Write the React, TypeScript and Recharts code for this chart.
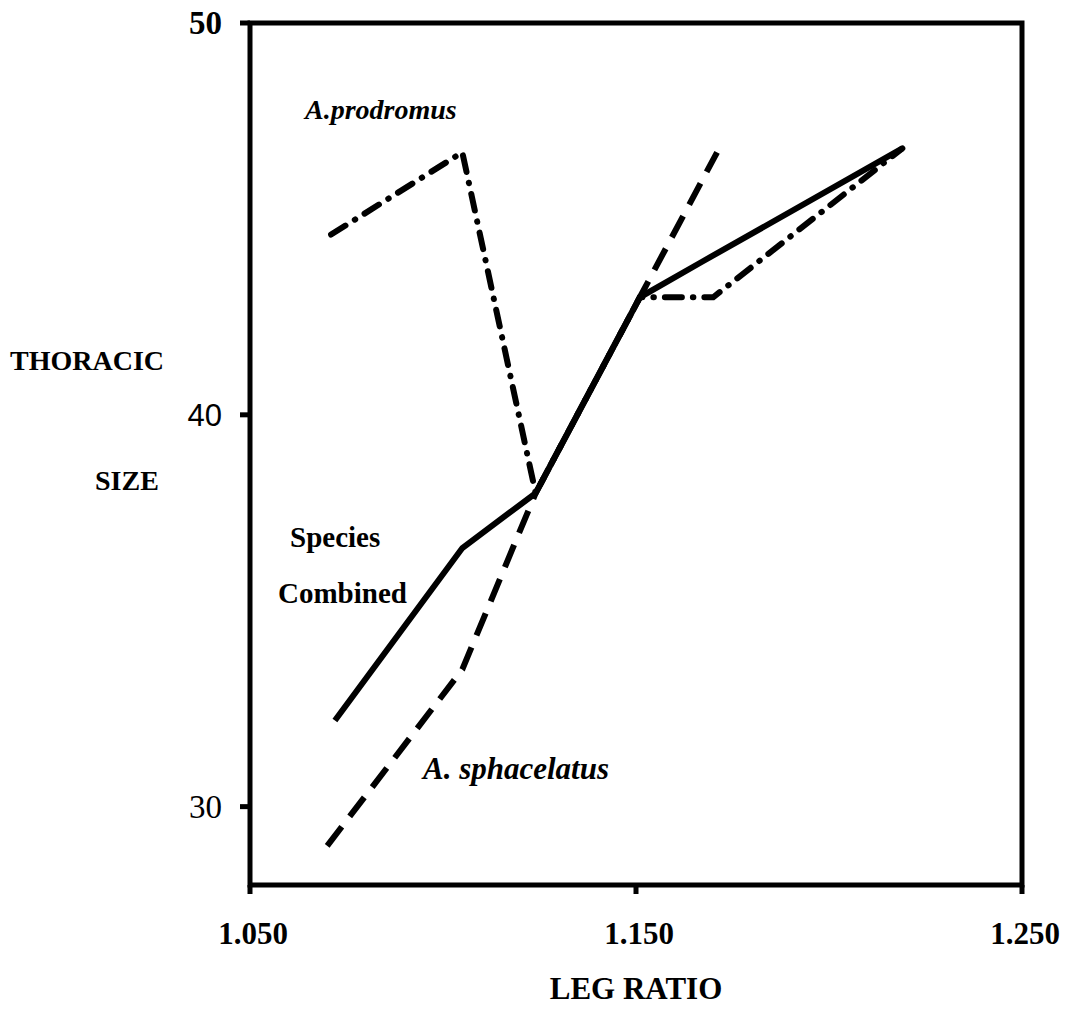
import { LineChart, Line, XAxis, YAxis, ReferenceArea, Customized } from 'recharts';

// leg ratio / thoracic size
const prodromusX = [1.071, 1.105, 1.124, 1.151, 1.17, 1.219];
const prodromusY = [44.6, 46.7, 38.0, 43.0, 43.0, 46.8];

const combinedX = [1.072, 1.105, 1.124, 1.151, 1.167, 1.219];
const combinedY = [32.2, 36.6, 38.0, 43.0, 43.9, 46.8];

const sphacelatusX = [1.07, 1.105, 1.124, 1.151, 1.171];
const sphacelatusY = [29.0, 33.5, 38.0, 43.0, 46.7];

const xTicks = [1.05, 1.15, 1.25];
const yTicks = [30, 40, 50];

const toPoints = (xs: number[], ys: number[]) => xs.map((x, i) => ({ x, y: ys[i] }));

const prodromus = toPoints(prodromusX, prodromusY);
const combined = toPoints(combinedX, combinedY);
const sphacelatus = toPoints(sphacelatusX, sphacelatusY);

const serif = '"Liberation Serif", "DejaVu Serif", serif';
const sans = '"Liberation Sans", Arial, sans-serif';

const YTick = (props: any) => {
  const { x, y, payload } = props;
  const v = payload.value;
  const style =
    v === 50
      ? { fontFamily: serif, fontWeight: 700, fontSize: 33 }
      : v === 40
      ? { fontFamily: sans, fontWeight: 400, fontSize: 31 }
      : { fontFamily: serif, fontWeight: 400, fontSize: 33 };
  return (
    <text x={x - 16} y={y + 11} textAnchor="end" fill="#000" {...style}>
      {v}
    </text>
  );
};

const XTick = (props: any) => {
  const { x, y, payload } = props;
  return (
    <text x={x + 3} y={y + 48} textAnchor="middle" fill="#000" fontFamily={serif} fontWeight={700} fontSize={31}>
      {payload.value.toFixed(3)}
    </text>
  );
};

const Labels = () => (
  <g fill="#000" fontFamily={serif}>
    <text x={10} y={370} fontWeight={700} fontSize={28}>THORACIC</text>
    <text x={95} y={490} fontWeight={700} fontSize={28}>SIZE</text>
    <text x={636} y={999} textAnchor="middle" fontWeight={700} fontSize={31}>LEG RATIO</text>
    <text x={305} y={119} fontWeight={700} fontStyle="italic" fontSize={28}>A.prodromus</text>
    <text x={290} y={547} fontWeight={700} fontSize={29}>Species</text>
    <text x={278} y={603} fontWeight={700} fontSize={29}>Combined</text>
    <text x={423} y={779} fontWeight={700} fontStyle="italic" fontSize={31}>A. sphacelatus</text>
  </g>
);

const App = () => (
  <div style={{ position: 'absolute', left: 0, top: 0, width: 1078, height: 1010, background: '#fff' }}>
    <LineChart width={1078} height={1010} margin={{ top: 23, right: 56, left: 190, bottom: 95 }}>
      <XAxis
        type="number"
        dataKey="x"
        domain={[1.05, 1.25]}
        ticks={xTicks}
        allowDataOverflow
        axisLine={false}
        tickLine={{ stroke: '#000', strokeWidth: 5 }}
        tickSize={9}
        tick={<XTick />}
        height={30}
      />
      <YAxis
        type="number"
        dataKey="y"
        domain={[28, 50]}
        ticks={yTicks}
        allowDataOverflow
        axisLine={false}
        tickLine={{ stroke: '#000', strokeWidth: 5 }}
        tickSize={10}
        tick={<YTick />}
        width={60}
      />
      <ReferenceArea x1={1.05} x2={1.25} y1={28} y2={50} fill="none" stroke="#000" strokeWidth={5} />
      <Line
        data={combined}
        dataKey="y"
        stroke="#000"
        strokeWidth={6}
        dot={false}
        strokeLinejoin="miter"
        isAnimationActive={false}
      />
      <Line
        data={sphacelatus}
        dataKey="y"
        stroke="#000"
        strokeWidth={6}
        strokeDasharray="24 13"
        dot={false}
        isAnimationActive={false}
      />
      <Line
        data={prodromus}
        dataKey="y"
        stroke="#000"
        strokeWidth={6}
        strokeLinecap="round"
        strokeDasharray="17 11 0.5 11"
        dot={false}
        isAnimationActive={false}
      />
      <Customized component={Labels} />
    </LineChart>
  </div>
);

export default App;
